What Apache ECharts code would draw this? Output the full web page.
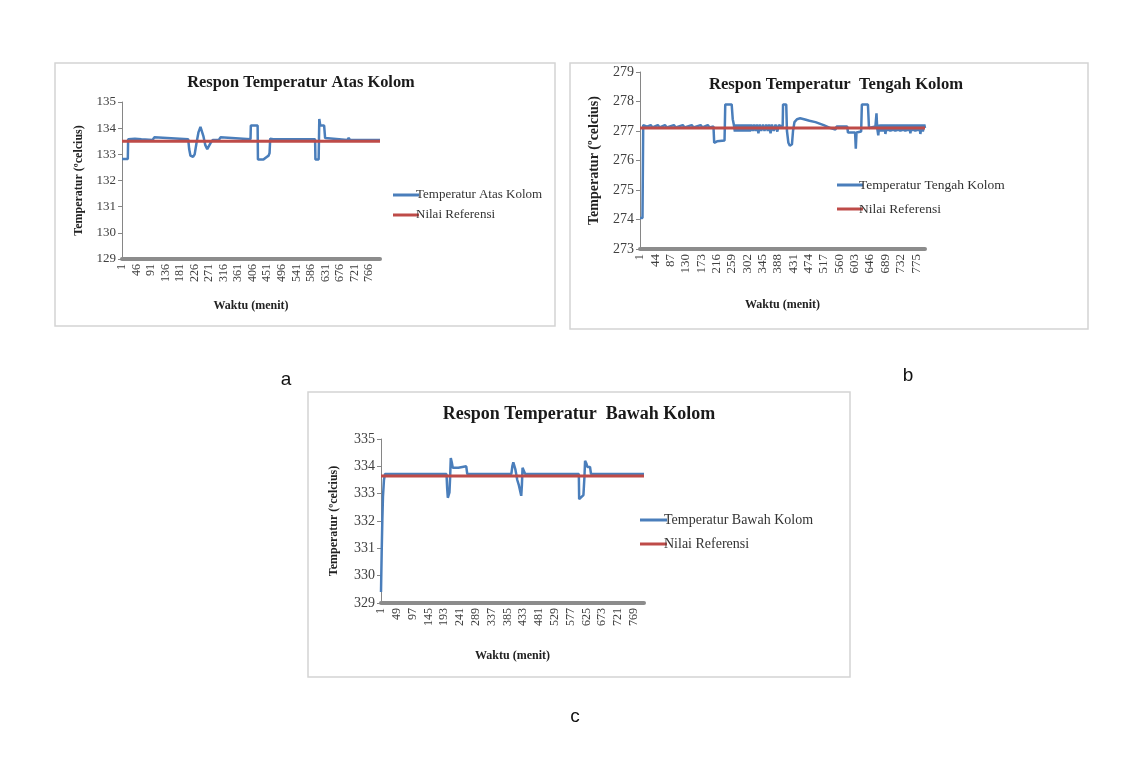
<!DOCTYPE html>
<html>
<head>
<meta charset="utf-8">
<script src="https://cdn.jsdelivr.net/npm/echarts@6/dist/echarts.min.js"></script>
<style>
html,body{margin:0;padding:0;background:#fff;}
#main{width:1141px;height:764px;}
</style>
</head>
<body>
<div id="main"></div>
<script>
// ---- data ----
var categories = [];
for (var k = 1; k <= 800; k++) categories.push(String(k));

var atasRef = 133.5;
var atasTemp = [[0,132.82],[18,132.82],[19,133.58],[40,133.6],[60,133.58],[95,133.55],[100,133.65],[106,133.58],[205,133.58],[208,133.2],[212,132.95],[220,132.9],[225,133.0],[231,133.45],[237,133.85],[243,134.05],[247,134.0],[252,133.7],[258,133.35],[264,133.2],[270,133.15],[275,133.45],[281,133.55],[300,133.55],[305,133.65],[310,133.58],[398,133.58],[399,134.1],[420,134.1],[421,132.8],[438,132.8],[446,132.88],[454,132.95],[457,133.05],[459,133.6],[463,133.65],[468,133.58],[598,133.58],[599,132.8],[609,132.8],[611,134.35],[614,134.1],[626,134.1],[629,133.62],[655,133.6],[660,133.55],[698,133.55],[702,133.63],[706,133.55],[799,133.55]];

var tengahRef = 277.1;
var tengahTemp = [[0,274.05],[7,274.05],[9,277.2],[20,277.15],[30,277.2],[35,277.12],[50,277.2],[55,277.12],[70,277.2],[75,277.12],[95,277.2],[100,277.12],[120,277.2],[125,277.12],[145,277.2],[150,277.12],[170,277.2],[175,277.12],[190,277.2],[195,277.12],[206,277.15],[208,276.6],[211,276.55],[216,276.65],[237,276.68],[239,277.9],[257,277.9],[260,277.4],[263,277.22],[266,276.98],[270,277.22],[273,276.98],[277,277.22],[280,276.98],[284,277.22],[287,276.98],[291,277.22],[294,276.98],[298,277.22],[301,276.98],[305,277.22],[308,276.98],[312,277.22],[316,277.0],[320,277.22],[324,277.0],[328,277.22],[332,276.92],[336,277.22],[340,277.0],[345,277.22],[349,277.0],[354,277.22],[358,277.0],[362,277.22],[366,276.92],[370,277.22],[375,277.0],[380,277.22],[385,276.98],[389,277.2],[392,277.15],[400,277.15],[401,277.9],[410,277.9],[412,277.0],[416,276.6],[420,276.5],[426,276.55],[429,277.0],[433,277.3],[440,277.4],[449,277.43],[460,277.4],[475,277.35],[492,277.3],[515,277.2],[534,277.1],[548,277.05],[551,277.15],[581,277.15],[583,276.95],[603,276.95],[605,276.4],[607,276.95],[620,276.98],[622,277.9],[639,277.9],[642,277.1],[660,277.15],[663,277.6],[665,277.1],[668,276.85],[671,277.22],[674,276.98],[678,277.22],[681,276.98],[685,277.22],[688,276.9],[692,277.22],[695,277.0],[699,277.22],[702,276.98],[706,277.22],[709,277.0],[713,277.22],[716,276.98],[720,277.22],[723,277.0],[727,277.22],[730,276.98],[734,277.22],[737,277.0],[741,277.22],[744,276.98],[748,277.22],[751,277.0],[755,277.22],[758,276.92],[762,277.22],[765,277.0],[769,277.22],[772,276.98],[776,277.22],[779,277.0],[783,277.22],[786,276.9],[790,277.22],[793,276.98],[797,277.22],[799,277.1]];

var bawahRef = 333.65;
var bawahTemp = [[0,329.4],[2,330.8],[4,332.0],[6,332.9],[9,333.5],[12,333.72],[199,333.72],[201,333.2],[203,332.85],[206,332.85],[208,333.05],[210,333.6],[212,334.3],[215,334.15],[218,333.95],[235,333.95],[240,334.0],[259,334.0],[262,333.72],[396,333.72],[399,334.0],[402,334.15],[408,333.9],[414,333.5],[419,333.3],[422,333.25],[426,332.92],[428,333.3],[430,333.95],[436,333.95],[438,333.72],[601,333.72],[602,332.8],[608,332.82],[615,332.95],[618,333.6],[620,334.2],[624,334.1],[627,333.98],[635,333.98],[638,333.72],[799,333.72]];

var titles = ['Respon Temperatur Atas Kolom', 'Respon Temperatur  Tengah Kolom', 'Respon Temperatur  Bawah Kolom'];
var seriesNames = ['Temperatur Atas Kolom', 'Temperatur Tengah Kolom', 'Temperatur Bawah Kolom'];
var refName = 'Nilai Referensi';
var xName = 'Waktu (menit)';
var yName = 'Temperatur (\u00BAcelcius)';
var yRanges = [[129, 135], [273, 279], [329, 335]];
var labelStep = [45, 43, 48];
var panelLetters = ['a', 'b', 'c'];

// ---- layout ----
var SERIF = "'Liberation Serif', 'DejaVu Serif', serif";
var BLUE = '#4a7ebb';
var RED = '#be4b48';
var grids = [
  {left: 122, top: 102, width: 258, height: 157},
  {left: 640, top: 72, width: 285, height: 177},
  {left: 381, top: 439, width: 263, height: 164}
];
var boxes = [
  {x: 55, y: 63, w: 500, h: 263},
  {x: 570, y: 63, w: 518, h: 266},
  {x: 308, y: 392, w: 542, h: 285}
];
var titlePos = [{x: 296, y: 70, fs: 16.4}, {x: 831, y: 71, fs: 16.6}, {x: 574, y: 400, fs: 18}];
var legendPos = [
  {x: 388, y: 182, gap: 4, fs: 13, w: 26, pad: -8},
  {x: 832, y: 172, gap: 8, fs: 13.5, w: 26, pad: -9},
  {x: 635, y: 507, gap: 8, fs: 14, w: 27, pad: -8}
];
var xNameGap = [41, 50, 47];
var yNameGap = [37, 39, 41];
var yNameSize = [12, 14, 12];
var yLabelSize = [13, 14, 14];
var xLabelSize = [12, 13, 12];
var refs = [atasRef, tengahRef, bawahRef];
var temps = [atasTemp, tengahTemp, bawahTemp];
var letterPos = [{x: 286, y: 380}, {x: 908, y: 376}, {x: 575, y: 717}];

var option = {
  animation: false,
  backgroundColor: '#ffffff',
  title: [], legend: [], grid: [], xAxis: [], yAxis: [], series: [], graphic: []
};

for (var i = 0; i < 3; i++) {
  var b = boxes[i];
  option.graphic.push({
    type: 'rect', z: -10, silent: true,
    shape: {x: b.x, y: b.y, width: b.w, height: b.h},
    style: {fill: '#ffffff', stroke: '#d4d4d4', lineWidth: 1.5}
  });
  option.graphic.push({
    type: 'text', silent: true, x: letterPos[i].x, y: letterPos[i].y,
    style: {text: panelLetters[i], font: "19px 'Liberation Sans', Arial, sans-serif", fill: '#111', textAlign: 'center', textVerticalAlign: 'middle'}
  });
  option.title.push({
    text: titles[i], left: titlePos[i].x, top: titlePos[i].y, textAlign: 'center',
    textStyle: {fontFamily: SERIF, fontWeight: 'bold', fontSize: titlePos[i].fs, color: '#1a1a1a'}
  });
  option.grid.push({left: grids[i].left, top: grids[i].top, width: grids[i].width, height: grids[i].height, containLabel: false});
  option.xAxis.push({
    type: 'category', gridIndex: i, data: categories, boundaryGap: false,
    name: xName, nameLocation: 'middle', nameGap: xNameGap[i],
    nameTextStyle: {fontFamily: SERIF, fontWeight: 'bold', fontSize: 12, color: '#222'},
    axisLine: {show: true, lineStyle: {color: '#8c8c8c', width: 4}},
    axisTick: {show: false},
    splitLine: {show: false},
    axisLabel: {interval: labelStep[i] - 1, rotate: 90, margin: 5, fontFamily: SERIF, fontSize: xLabelSize[i], color: '#404040', hideOverlap: false}
  });
  option.yAxis.push({
    type: 'value', gridIndex: i, min: yRanges[i][0], max: yRanges[i][1], interval: 1,
    name: yName, nameLocation: 'middle', nameRotate: 90, nameGap: yNameGap[i],
    nameTextStyle: {fontFamily: SERIF, fontWeight: 'bold', fontSize: yNameSize[i], color: '#222'},
    axisLine: {show: true, lineStyle: {color: '#868686', width: 1}},
    axisTick: {show: true, length: 4, lineStyle: {color: '#868686'}},
    splitLine: {show: false},
    axisLabel: {margin: 6, fontFamily: SERIF, fontSize: yLabelSize[i], color: '#404040'}
  });
  option.series.push({
    name: seriesNames[i], type: 'line', xAxisIndex: i, yAxisIndex: i,
    data: temps[i], showSymbol: false, symbol: 'none', smooth: false,
    lineStyle: {color: BLUE, width: 2.5}, itemStyle: {color: BLUE}, z: 2
  });
  option.series.push({
    name: refName, type: 'line', xAxisIndex: i, yAxisIndex: i,
    data: [[0, refs[i]], [799, refs[i]]], showSymbol: false, symbol: 'none',
    lineStyle: {color: RED, width: 3}, itemStyle: {color: RED}, z: 3
  });
  option.legend.push({
    data: [seriesNames[i], refName], orient: 'vertical',
    left: legendPos[i].x, top: legendPos[i].y, itemGap: legendPos[i].gap,
    icon: 'rect', itemWidth: legendPos[i].w, itemHeight: 3, selectedMode: false,
    textStyle: {fontFamily: SERIF, fontSize: legendPos[i].fs, color: '#333', lineHeight: 16, padding: [0, 0, 0, legendPos[i].pad]}
  });
}

var chart = echarts.init(document.getElementById('main'));
chart.setOption(option);
</script>
</body>
</html>
